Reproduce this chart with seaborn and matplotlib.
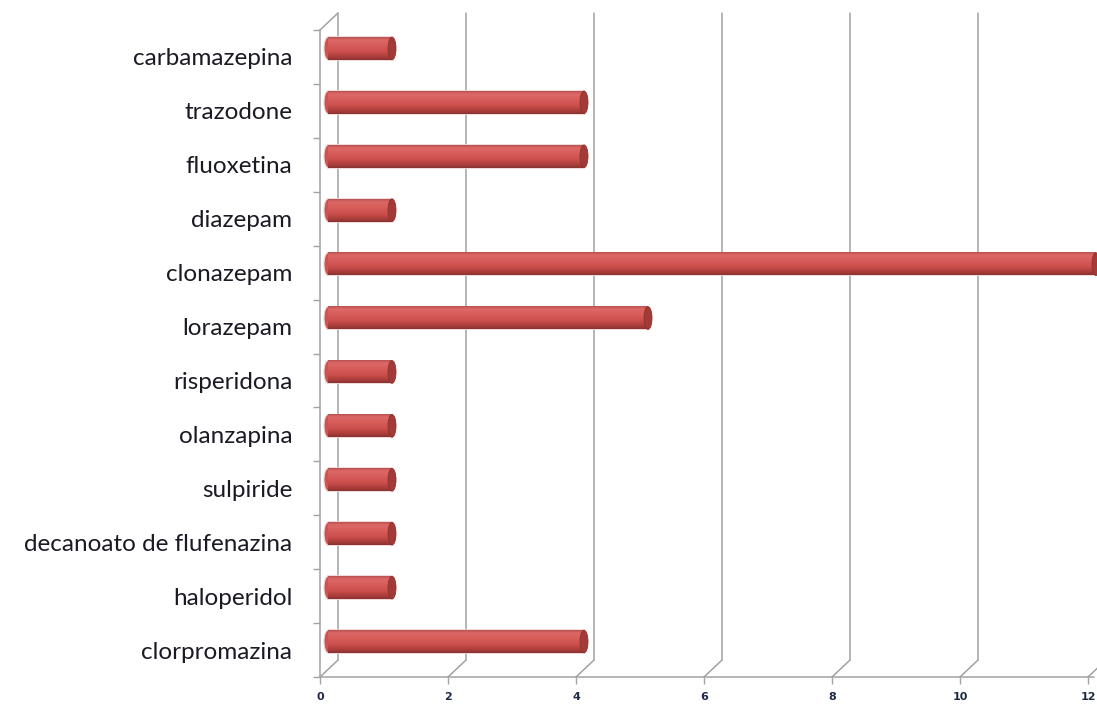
import numpy as np
import pandas as pd
import matplotlib
matplotlib.use("Agg")
import matplotlib.pyplot as plt
import matplotlib.transforms as mtransforms
from matplotlib.colors import LinearSegmentedColormap
from matplotlib.patches import Ellipse
import seaborn as sns

# Medication names (top to bottom) and number of patients
medicamentos = [
    "carbamazepina", "trazodone", "fluoxetina", "diazepam", "clonazepam",
    "lorazepam", "risperidona", "olanzapina", "sulpiride",
    "decanoato de flufenazina", "haloperidol", "clorpromazina",
]
pacientes = [1, 4, 4, 1, 12, 5, 1, 1, 1, 1, 1, 4]
x_ticks = [0, 2, 4, 6, 8, 10, 12]

df = pd.DataFrame({"medicamento": medicamentos, "pacientes": pacientes})

sns.set_theme(style="white")
plt.rcParams["font.family"] = ["Lato", "DejaVu Sans"]

W, H, DPI = 1097, 704, 100
fig = plt.figure(figsize=(W / DPI, H / DPI), dpi=DPI)

px_per_unit = 64.0
left_px, bottom_px, top_px = 320, 677, 30
xmax = 12.3
ax = fig.add_axes([left_px / W, (H - bottom_px) / H,
                   xmax * px_per_unit / W, (bottom_px - top_px) / H])

bar_h = 0.42
sns.barplot(data=df, x="pacientes", y="medicamento", orient="h",
            color="#D05250", width=bar_h, ax=ax, saturation=1,
            edgecolor="#EFD3D3", linewidth=1.2)

n = len(medicamentos)
ax.set_xlim(0, xmax)
ax.set_ylim(n - 0.5, -0.5)

# Depth offsets: bars sit mid-way, gridlines on the back wall
mid = ax.transData + mtransforms.ScaledTranslation(8 / DPI, 8.5 / DPI, fig.dpi_scale_trans)
back = ax.transData + mtransforms.ScaledTranslation(18 / DPI, 17 / DPI, fig.dpi_scale_trans)

grid_c = "#A2A2A2"
lw_grid = 1.1


def slant(xv, yv):
    p0 = ax.transData.transform((xv, yv))
    p1 = back.transform((xv, yv))
    fig.add_artist(plt.Line2D([p0[0] / W, p1[0] / W], [p0[1] / H, p1[1] / H],
                              color=grid_c, lw=lw_grid, zorder=0.5))


ybot, ytop = n - 0.5, -0.5
for xv in x_ticks[:-1]:
    ax.plot([xv, xv], [ybot, ytop], color=grid_c, lw=lw_grid, transform=back,
            clip_on=False, zorder=0.5)
    slant(xv, ybot)
slant(x_ticks[-1], ybot)

# left wall: front edge and top slant
ax.plot([0, 0], [ybot, ytop], color=grid_c, lw=lw_grid, clip_on=False, zorder=0.6)
slant(0, ytop)
# front floor axis
ax.plot([0, 12.1], [ybot, ybot], color=grid_c, lw=lw_grid, clip_on=False, zorder=0.6)

# Cylinder shading
cyl = LinearSegmentedColormap.from_list("cyl", [
    (0.0, "#B65150"), (0.12, "#DC6866"), (0.35, "#D75E5B"),
    (0.62, "#CD504D"), (0.85, "#AD3E3C"), (1.0, "#8A3331")])
grad = cyl(np.linspace(0, 1, 64))[:, None, :]
cap_w = 8 / px_per_unit

for p in list(ax.patches):
    p.set_transform(mid)
    p.set_clip_on(False)
    x0, y0, w, h = p.get_x(), p.get_y(), p.get_width(), p.get_height()
    yc = y0 + h / 2
    left_cap = Ellipse((x0, yc), cap_w, h, facecolor="#D05250",
                       edgecolor="#EFD3D3", lw=0.8, transform=mid, zorder=2.5,
                       clip_on=False)
    ax.add_patch(left_cap)
    im = ax.imshow(grad, extent=(x0, x0 + w, y0 + h, y0), origin="upper",
                   aspect="auto", interpolation="bilinear", transform=mid,
                   zorder=3)
    im.set_clip_on(False)
    cap = Ellipse((x0 + w, yc), cap_w, h, facecolor="#A23A38",
                  edgecolor="#8E3230", lw=0.6, transform=mid, zorder=4,
                  clip_on=False)
    ax.add_patch(cap)

ax.set_xlim(0, xmax)
ax.set_ylim(n - 0.5, -0.5)

for s in ax.spines.values():
    s.set_visible(False)

ax.set_xlabel("")
ax.set_ylabel("")
ax.set_xticks(x_ticks)
ax.set_xticklabels([str(t) for t in x_ticks], fontsize=8, color="#1E2A44",
                   fontweight="bold", family=["DejaVu Sans"])
ax.tick_params(axis="x", length=5, width=1.0, color=grid_c, pad=6, bottom=True)

ax.set_yticks(np.arange(n))
ax.set_yticklabels(medicamentos, fontsize=17.5, color="#1A1A24")
ax.set_yticks(np.arange(n + 1) - 0.5, minor=True)
ax.tick_params(axis="y", which="major", length=0, pad=20)
ax.tick_params(axis="y", which="minor", length=5, width=1.0, color=grid_c, left=True)

fig.savefig("out.png", dpi=DPI, facecolor="white")
